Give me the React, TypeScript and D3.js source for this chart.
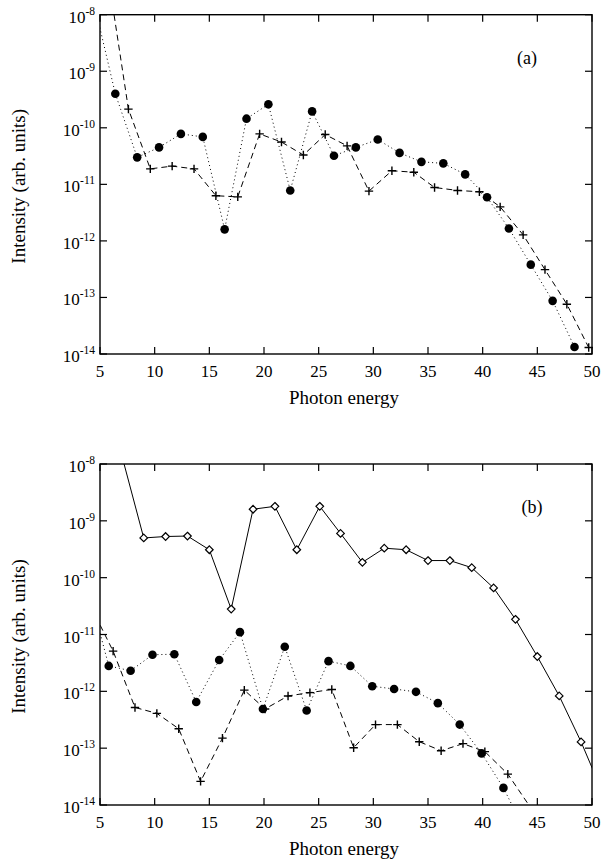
import React from "react";
import * as d3 from "d3";

// ---------- data ----------
const xTicks = [5, 10, 15, 20, 25, 30, 35, 40, 45, 50];
const yExponents = [-8, -9, -10, -11, -12, -13, -14];

// Panel (a)
const aCircleX = [4.4, 6.4, 8.4, 10.4, 12.4, 14.4, 16.4, 18.4, 20.4, 22.4, 24.4, 26.4, 28.4, 30.4, 32.4, 34.4, 36.4, 38.4, 40.4, 42.4, 44.4, 46.4, 48.4];
const aCircleY = [1.8e-8, 4.0e-10, 3.0e-11, 4.5e-11, 7.8e-11, 6.9e-11, 1.6e-12, 1.45e-10, 2.6e-10, 7.8e-12, 1.95e-10, 3.2e-11, 4.5e-11, 6.2e-11, 3.6e-11, 2.5e-11, 2.35e-11, 1.5e-11, 5.9e-12, 1.66e-12, 3.8e-13, 8.7e-14, 1.33e-14];
const aPlusX = [5.6, 7.6, 9.6, 11.6, 13.6, 15.6, 17.6, 19.6, 21.6, 23.6, 25.6, 27.6, 29.6, 31.7, 33.7, 35.6, 37.7, 39.7, 41.6, 43.7, 45.7, 47.7, 49.7];
const aPlusY = [7.4e-8, 2.14e-10, 1.88e-11, 2.1e-11, 1.88e-11, 6.3e-12, 6.0e-12, 7.8e-11, 5.6e-11, 3.3e-11, 7.6e-11, 4.8e-11, 7.6e-12, 1.74e-11, 1.64e-11, 8.8e-12, 7.8e-12, 7.4e-12, 4.0e-12, 1.28e-12, 3.1e-13, 7.6e-14, 1.3e-14];

// Panel (b)
const bDiamondX = [7, 9, 11, 13, 15, 17, 19, 21, 23, 25.1, 27, 29, 31, 33, 35, 37, 39, 41, 43, 45, 47, 49, 51];
const bDiamondY = [1.4e-8, 5.0e-10, 5.3e-10, 5.4e-10, 3.1e-10, 2.8e-11, 1.6e-9, 1.8e-9, 3.1e-10, 1.8e-9, 6.0e-10, 1.86e-10, 3.3e-10, 3.1e-10, 2.0e-10, 2.0e-10, 1.5e-10, 6.6e-11, 1.85e-11, 4.1e-12, 8.3e-13, 1.29e-13, 1.6e-14];
const bCircleX = [3.8, 5.8, 7.8, 9.8, 11.8, 13.8, 15.9, 17.8, 19.9, 21.9, 23.9, 25.9, 27.9, 29.9, 31.9, 33.9, 35.9, 37.9, 39.9, 41.9, 43.9];
const bCircleY = [8e-11, 2.8e-12, 2.3e-12, 4.4e-12, 4.5e-12, 6.5e-13, 3.55e-12, 1.1e-11, 4.9e-13, 6.1e-12, 4.6e-13, 3.4e-12, 2.8e-12, 1.23e-12, 1.1e-12, 9.8e-13, 6.2e-13, 2.6e-13, 8.1e-14, 2.0e-14, 3.4e-15];
const bPlusX = [4.2, 6.2, 8.2, 10.2, 12.2, 14.2, 16.2, 18.2, 20.1, 22.2, 24.2, 26.2, 28.2, 30.2, 32.2, 34.2, 36.2, 38.2, 40.2, 42.3, 44.3];
const bPlusY = [3e-11, 5.1e-12, 5.2e-13, 4.1e-13, 2.2e-13, 2.6e-14, 1.5e-13, 1.05e-12, 4.9e-13, 8.3e-13, 9.5e-13, 1.08e-12, 1.02e-13, 2.6e-13, 2.6e-13, 1.3e-13, 9e-14, 1.2e-13, 8.7e-14, 3.5e-14, 9.5e-15];

const xTitle = "Photon energy";
const yTitle = "Intensity (arb. units)";

// ---------- layout ----------
const W = 602;
const H = 867;
const LEFT = 100;
const RIGHT = 592;
const txt = (size: number) => ({ fontFamily: "Liberation Serif", fontSize: size + "px" });

type Series = { xs: number[]; ys: number[]; marker: "circle" | "plus" | "diamond"; dash: string };

function Panel({ id, top, bottom, label, labelX, labelY, series }: {
  id: string; top: number; bottom: number; label: string; labelX: number; labelY: number; series: Series[];
}) {
  const x = d3.scaleLinear().domain([5, 50]).range([LEFT, RIGHT]);
  const y = d3.scaleLog().domain([1e-14, 1e-8]).range([bottom, top]);
  const line = d3.line<[number, number]>().x((d) => x(d[0])).y((d) => y(d[1]));
  const tickLen = 7;
  const mid = (top + bottom) / 2;

  const marker = (m: string, px: number, py: number, k: number) => {
    if (m === "circle") return <circle key={k} cx={px} cy={py} r={4.3} fill="#000" />;
    if (m === "plus")
      return (
        <path key={k} d={`M${px - 4.2},${py}H${px + 4.2}M${px},${py - 4.2}V${py + 4.2}`} stroke="#000" strokeWidth={1.4} fill="none" />
      );
    const s = 3.8;
    return (
      <path key={k} d={`M${px},${py - s}L${px + s},${py}L${px},${py + s}L${px - s},${py}Z`} fill="#fff" stroke="#000" strokeWidth={1.2} />
    );
  };

  return (
    <g>
      <defs>
        <clipPath id={id}>
          <rect x={LEFT} y={top} width={RIGHT - LEFT} height={bottom - top} />
        </clipPath>
      </defs>
      <g clipPath={`url(#${id})`}>
        {series.map((s, i) => {
          const pts = s.xs.map((v, j) => [v, s.ys[j]] as [number, number]);
          return <path key={i} d={line(pts) || ""} fill="none" stroke="#000" strokeWidth={1} strokeDasharray={s.dash} />;
        })}
      </g>
      {series.map((s, i) => (
        <g key={"m" + i}>
          {s.xs.map((v, j) =>
            v >= 5 && v <= 50 && s.ys[j] >= 1e-14 && s.ys[j] <= 1e-8 ? marker(s.marker, x(v), y(s.ys[j]), j) : null
          )}
        </g>
      ))}
      {/* frame */}
      <rect x={LEFT} y={top} width={RIGHT - LEFT} height={bottom - top} fill="none" stroke="#000" strokeWidth={1.4} />
      {/* x ticks */}
      {xTicks.map((t) => (
        <g key={"xt" + t}>
          <line x1={x(t)} x2={x(t)} y1={bottom} y2={bottom - tickLen} stroke="#000" strokeWidth={1.2} />
          <line x1={x(t)} x2={x(t)} y1={top} y2={top + tickLen} stroke="#000" strokeWidth={1.2} />
          <text x={x(t)} y={bottom + 23} textAnchor="middle" style={txt(17)}>{t}</text>
        </g>
      ))}
      {/* y ticks */}
      {yExponents.map((e) => {
        const py = y(Math.pow(10, e));
        return (
          <g key={"yt" + e}>
            <line x1={LEFT} x2={LEFT + tickLen} y1={py} y2={py} stroke="#000" strokeWidth={1.2} />
            <line x1={RIGHT} x2={RIGHT - tickLen} y1={py} y2={py} stroke="#000" strokeWidth={1.2} />
            <text x={LEFT - 5} y={py + 8} textAnchor="end" style={txt(17)}>
              10<tspan style={{ fontSize: "11.5px" }} dy={-8}>{"-" + Math.abs(e)}</tspan>
            </text>
          </g>
        );
      })}
      <text x={labelX} y={labelY} textAnchor="middle" style={txt(18)}>{label}</text>
      <text x={(LEFT + RIGHT) / 2 - 2} y={bottom + 50} textAnchor="middle" style={txt(19)}>{xTitle}</text>
      <text transform={`translate(25,${mid + 2}) rotate(-90)`} textAnchor="middle" style={txt(19)}>{yTitle}</text>
    </g>
  );
}

export default function App() {
  return (
    <svg width={W} height={H} style={{ position: "absolute", left: 0, top: 0, background: "#fff" }}>
      <rect x={0} y={0} width={W} height={H} fill="#fff" />
      <Panel
        id="clipA"
        top={14.7}
        bottom={354}
        label="(a)"
        labelX={527}
        labelY={64}
        series={[
          { xs: aCircleX, ys: aCircleY, marker: "circle", dash: "1,3" },
          { xs: aPlusX, ys: aPlusY, marker: "plus", dash: "6,4" },
        ]}
      />
      <Panel
        id="clipB"
        top={464}
        bottom={805}
        label="(b)"
        labelX={532}
        labelY={513}
        series={[
          { xs: bDiamondX, ys: bDiamondY, marker: "diamond", dash: "" },
          { xs: bCircleX, ys: bCircleY, marker: "circle", dash: "1,3" },
          { xs: bPlusX, ys: bPlusY, marker: "plus", dash: "6,4" },
        ]}
      />
    </svg>
  );
}
